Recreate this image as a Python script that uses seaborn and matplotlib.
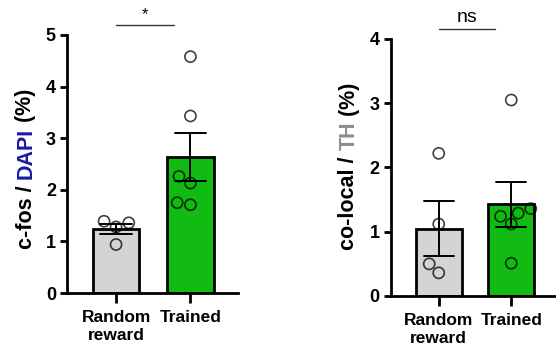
import numpy as np
import pandas as pd
import matplotlib
matplotlib.use("Agg")
import matplotlib.pyplot as plt
import seaborn as sns

# ---- data ----
groups = ["Random\nreward", "Trained"]
cfos_random = [1.28, 1.39, 1.36, 0.94]
cfos_trained = [4.58, 3.43, 2.13, 2.26, 1.71, 1.75]
coloc_random = [2.22, 1.12, 0.50, 0.36]
coloc_trained = [3.05, 1.24, 1.36, 1.12, 1.29, 0.51]
bar_colors = ["#d4d4d4", "#11bb11"]

sns.set_style("ticks")
plt.rcParams["font.family"] = ["Liberation Sans", "DejaVu Sans"]
plt.rcParams["font.weight"] = "bold"
plt.rcParams["text.color"] = "black"
plt.rcParams["xtick.color"] = "black"
plt.rcParams["ytick.color"] = "black"
plt.rcParams["axes.edgecolor"] = "black"


def make_df(a, b):
    return pd.DataFrame({"group": [groups[0]] * len(a) + [groups[1]] * len(b),
                         "value": list(a) + list(b)})


def draw_panel(ax, df, ymax, sig_text, sig_size):
    sns.barplot(data=df, x="group", y="value", order=groups, palette=bar_colors,
                hue="group", legend=False, errorbar="se", capsize=0.42, width=0.63,
                saturation=1, edgecolor="black", linewidth=2, ax=ax,
                err_kws={"color": "black", "linewidth": 1.4})
    sns.swarmplot(data=df, x="group", y="value", order=groups, color="white",
                  size=8, edgecolor="black", linewidth=1.2, ax=ax)
    for c in ax.collections:
        c.set_facecolor("none")
        c.set_edgecolor((0, 0, 0, 0.75))
    ax.set_ylim(0, ymax)
    ax.set_yticks(range(ymax + 1))
    ax.set_xlim(-0.66, 1.64)
    ax.set_xlabel("")
    ax.set_ylabel("")
    sns.despine(ax=ax)
    for s in ["left", "bottom"]:
        ax.spines[s].set_linewidth(2)
    ax.tick_params(axis="y", length=5, width=2, labelsize=13, pad=3)
    ax.tick_params(axis="x", length=7, width=2, labelsize=12.5, pad=5)
    for lab in ax.get_xticklabels() + ax.get_yticklabels():
        lab.set_fontweight("bold")
        lab.set_linespacing(1.3)
    # significance bar
    y_line = ymax * 1.037
    ax.plot([0, 0.78], [y_line, y_line], color="#333333", lw=1, clip_on=False)
    ax.text(0.39, y_line + ymax * 0.012, sig_text, ha="center", va="bottom",
            fontsize=sig_size, fontweight="normal", clip_on=False)


fig = plt.figure(figsize=(5.56, 3.55), dpi=100)
ax1 = fig.add_axes([0.1205, 0.1746, 0.3076, 0.727])
ax2 = fig.add_axes([0.703, 0.1662, 0.300, 0.724])

draw_panel(ax1, make_df(cfos_random, cfos_trained), 5, "*", 12)
draw_panel(ax2, make_df(coloc_random, coloc_trained), 4, "ns", 14)


def colored_ylabel(fig, x, yc, parts, size=15.5):
    renderer = fig.canvas.get_renderer()
    texts = []
    for s, col in parts:
        t = fig.text(x, 0, s, rotation=90, ha="center", va="bottom",
                     color=col, fontsize=size, fontweight="bold")
        texts.append(t)
    heights = [t.get_window_extent(renderer).height / fig.bbox.height for t in texts]
    y = yc - sum(heights) / 2
    for t, h in zip(texts, heights):
        t.set_y(y)
        y += h


colored_ylabel(fig, 26 / 556, 1 - 169 / 355,
               [("c-fos / ", "black"), ("DAPI", "#1a1aa8"), (" (%)", "black")])
colored_ylabel(fig, 349 / 556, 1 - 166 / 355,
               [("co-local / ", "black"), ("TH", "#8c8c8c"), (" (%)", "black")])

fig.savefig("out.png", dpi=100, facecolor="white")
